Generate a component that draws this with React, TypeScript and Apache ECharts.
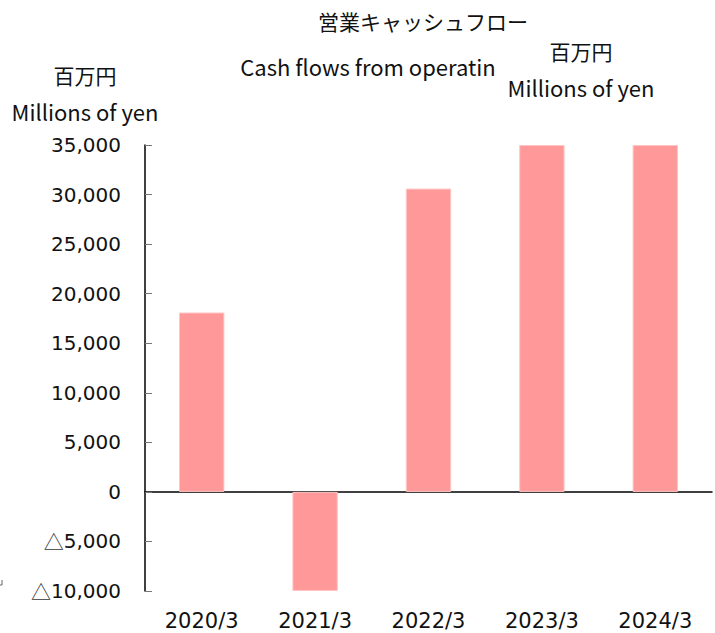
import React, { useEffect, useRef } from "react";
import * as echarts from "echarts";

const categories = ["2020/3", "2021/3", "2022/3", "2023/3", "2024/3"];
const operatingCF = [18100, -10000, 30600, 35000, 35000];
const yMin = -10000;
const yMax = 35000;
const yInterval = 5000;

const titleJa = "営業キャッシュフロー";
const titleEn = "Cash flows from operatin";
const unitJa = "百万円";
const unitEn = "Millions of yen";

function fmt(v: number): string {
  const s = Math.abs(v).toLocaleString("en-US");
  return v < 0 ? "{tri|△}" + s : s;
}

export default function App() {
  const ref = useRef<HTMLDivElement>(null);
  useEffect(() => {
    if (!ref.current) return;
    const chart = echarts.init(ref.current, null, { renderer: "svg" });
    const labelFont = "'DejaVu Sans', Verdana, sans-serif";
    const titleFont = "'Noto Sans CJK JP', sans-serif";
    const t = (text: string, x: number, y: number, size: number) => ({
      type: "text",
      x,
      y,
      style: { text, font: `${size}px ${titleFont}`, fill: "#111", textAlign: "center", textVerticalAlign: "middle" },
    });
    chart.setOption({
      animation: false,
      grid: { left: 145, right: 3, top: 145, bottom: 42, containLabel: false },
      graphic: [
        t(titleJa, 423, 21, 21),
        t(titleEn, 368, 66, 22),
        t(unitJa, 581, 51, 21),
        t(unitEn, 581, 87, 22),
        t(unitJa, 85, 75, 21),
        t(unitEn, 85, 111, 22),
        { type: "polyline", shape: { points: [[2, 580], [2, 585], [0, 585]] }, style: { stroke: "#666", lineWidth: 1, fill: null } },
      ],
      xAxis: [
        {
          type: "category",
          data: categories,
          axisLine: { onZero: true, lineStyle: { color: "#000", width: 1.5 } },
          axisTick: { inside: true, length: 7, lineStyle: { color: "#555" } },
          axisLabel: { show: false },
          splitLine: { show: false },
        },
        {
          type: "category",
          data: categories,
          position: "bottom",
          axisLine: { show: false, onZero: false },
          axisTick: { show: false },
          axisLabel: { color: "#111", fontSize: 21, fontFamily: labelFont, margin: 19 },
          splitLine: { show: false },
        },
      ],
      yAxis: {
        type: "value",
        min: yMin,
        max: yMax,
        interval: yInterval,
        axisLine: { show: true, lineStyle: { color: "#000", width: 1.5 } },
        axisTick: { show: true, inside: true, length: 7, lineStyle: { color: "#777" } },
        axisLabel: {
          color: "#111",
          fontSize: 20,
          fontFamily: labelFont,
          margin: 24,
          formatter: (v: number) => fmt(v),
          rich: { tri: { fontFamily: "'Noto Sans CJK JP', sans-serif", fontSize: 20, color: "#333" } },
        },
        splitLine: { show: false },
      },
      series: [
        {
          type: "bar",
          xAxisIndex: 0,
          data: operatingCF,
          barWidth: "40%",
          itemStyle: { color: "#FF9999", borderColor: "#FFC4C4", borderWidth: 1 },
        },
      ],
    });
    return () => chart.dispose();
  }, []);
  return <div ref={ref} style={{ position: "absolute", left: 0, top: 0, width: 715, height: 633 }} />;
}
